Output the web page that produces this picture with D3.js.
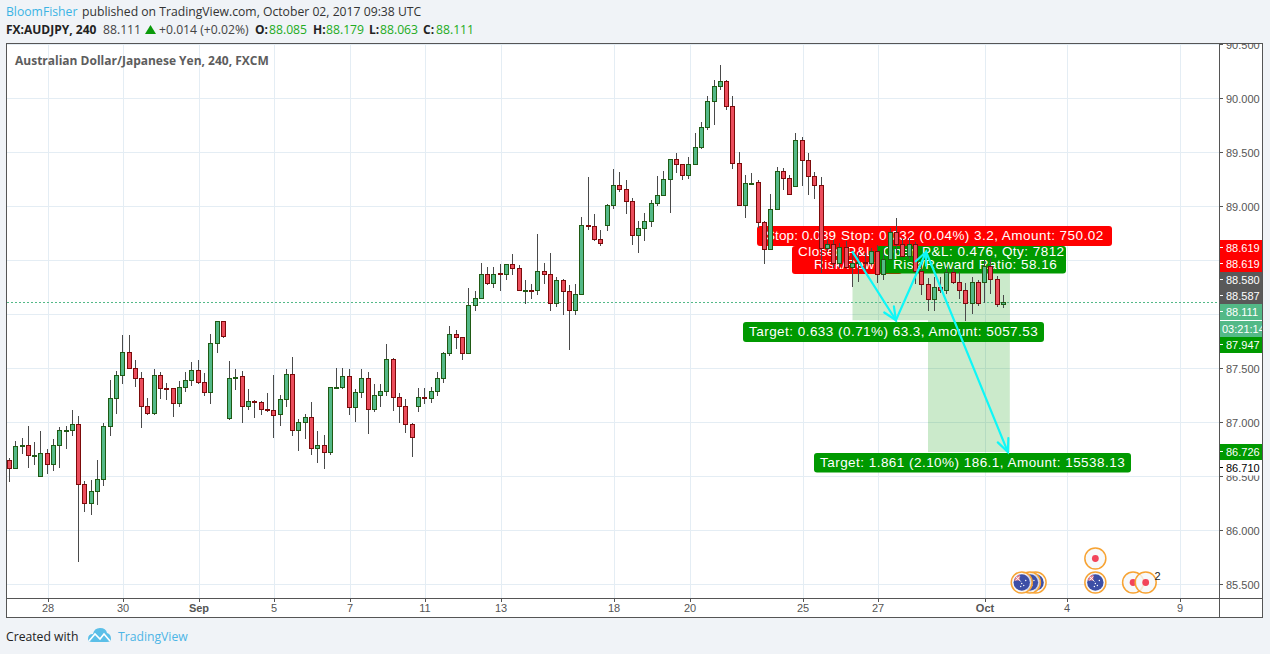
<!DOCTYPE html>
<html><head><meta charset="utf-8">
<script src="https://cdnjs.cloudflare.com/ajax/libs/d3/7.8.5/d3.min.js"></script>
<style>html,body{margin:0;padding:0;background:#f0f3f7;overflow:hidden}svg{display:block}</style>
</head><body><svg id="c" width="1270" height="654"></svg>
<script>
const opens=[86.648,86.565,86.769,86.787,86.691,86.491,86.704,86.602,86.778,86.915,86.917,86.981,86.417,86.250,86.352,86.472,86.954,87.213,87.426,87.648,87.500,87.407,87.148,87.083,87.435,87.308,87.306,87.167,87.324,87.380,87.481,87.370,87.269,87.731,87.926,87.028,87.409,87.417,87.139,87.193,87.185,87.117,87.111,87.065,87.204,87.444,86.917,86.991,87.046,86.759,86.787,86.713,87.315,87.320,87.417,87.130,87.269,87.407,87.120,87.250,87.278,87.583,87.231,87.148,86.981,87.139,87.231,87.222,87.278,87.407,87.630,87.806,87.787,87.630,88.083,88.148,88.370,88.287,88.372,88.370,88.454,88.417,88.220,88.222,88.213,88.389,88.370,88.093,88.306,88.204,88.028,88.185,88.815,88.806,88.694,88.824,89.009,89.194,89.157,89.046,88.731,88.796,88.861,89.019,89.093,89.250,89.435,89.380,89.287,89.380,89.546,89.731,89.963,90.111,90.157,89.917,89.389,89.009,89.204,89.213,88.843,88.593,88.963,89.324,89.259,89.176,89.602,89.417,89.269,89.194,88.611,88.648,88.463,88.620,88.435,88.473,88.481,88.463,88.583,88.370,88.509,88.759,88.639,88.528,88.639,88.398,88.269,88.130,88.241,88.213,88.380,88.296,88.222,88.093,88.296,88.296,88.444,88.315,88.085];
const highs=[86.669,86.827,86.861,86.972,86.824,86.917,86.759,86.843,86.954,86.963,87.120,87.056,86.454,86.463,86.657,86.991,87.389,87.481,87.806,87.806,87.583,87.472,87.231,87.491,87.463,87.370,87.324,87.380,87.472,87.556,87.583,87.454,87.824,87.935,87.944,87.574,87.500,87.481,87.306,87.204,87.197,87.269,87.444,87.259,87.500,87.611,87.028,87.083,87.194,86.917,86.880,87.324,87.509,87.509,87.500,87.306,87.500,87.463,87.352,87.361,87.731,87.593,87.269,87.222,86.991,87.315,87.315,87.333,87.472,87.657,87.898,87.852,87.795,88.250,88.222,88.481,88.444,88.444,88.463,88.463,88.556,88.454,88.315,88.278,88.741,88.481,88.565,88.345,88.333,88.269,88.278,88.907,89.269,88.935,88.778,89.019,89.343,89.324,89.241,89.083,88.870,88.944,89.056,89.287,89.333,89.444,89.491,89.398,89.454,89.676,89.787,90.019,90.167,90.306,90.167,90.019,89.509,89.296,89.306,89.241,88.870,89.120,89.370,89.361,89.296,89.676,89.639,89.491,89.324,89.271,88.688,88.688,88.660,88.679,88.568,88.568,88.568,88.620,88.648,88.602,88.799,88.889,88.706,88.706,88.669,88.475,88.336,88.345,88.345,88.438,88.438,88.398,88.296,88.345,88.318,88.503,88.521,88.361,88.179];
const lows=[86.450,86.565,86.709,86.580,86.607,86.491,86.524,86.552,86.580,86.756,86.876,85.709,86.172,86.144,86.237,86.413,86.876,87.080,87.361,87.500,87.330,86.950,87.065,87.065,87.219,87.209,87.052,87.144,87.283,87.339,87.352,87.246,87.172,87.639,87.787,87.019,87.302,86.996,87.117,87.043,87.070,87.098,86.857,86.969,87.144,86.876,86.737,86.848,86.700,86.626,86.570,86.700,87.306,87.311,87.070,87.006,87.228,86.894,87.093,87.144,87.246,87.107,86.996,86.904,86.681,87.098,87.167,87.176,87.250,87.367,87.617,87.681,87.577,87.630,88.037,88.148,88.269,88.241,88.222,88.324,88.370,88.222,88.093,88.139,88.176,88.278,88.037,88.065,88.000,87.669,88.000,88.185,88.787,88.685,88.630,88.769,88.981,89.130,88.926,88.648,88.565,88.685,88.806,89.009,89.093,88.944,89.306,89.241,89.259,89.380,89.537,89.704,89.759,90.083,89.889,89.343,89.009,88.898,89.204,88.799,88.472,88.593,88.963,89.157,89.111,89.176,89.194,89.102,89.074,88.382,88.577,88.429,88.429,88.435,88.256,88.299,88.382,88.456,88.296,88.315,88.509,88.565,88.528,88.512,88.287,88.176,88.028,88.028,88.197,88.194,88.287,88.148,87.944,88.009,88.083,88.102,88.194,88.074,88.063];
const closes=[86.565,86.769,86.787,86.694,86.694,86.704,86.602,86.778,86.917,86.917,86.981,86.417,86.250,86.352,86.472,86.954,87.213,87.426,87.648,87.500,87.407,87.148,87.083,87.435,87.306,87.306,87.167,87.324,87.380,87.481,87.370,87.269,87.731,87.926,87.796,87.407,87.413,87.139,87.194,87.191,87.120,87.107,87.061,87.204,87.444,86.917,86.991,87.046,86.759,86.787,86.713,87.315,87.320,87.417,87.130,87.269,87.407,87.120,87.250,87.278,87.583,87.231,87.148,86.981,86.852,87.231,87.226,87.278,87.407,87.630,87.806,87.787,87.630,88.083,88.148,88.370,88.287,88.370,88.370,88.454,88.417,88.222,88.222,88.213,88.389,88.370,88.093,88.306,88.204,88.028,88.185,88.815,88.806,88.694,88.657,89.009,89.194,89.157,89.046,88.731,88.796,88.861,89.019,89.093,89.250,89.435,89.380,89.287,89.380,89.546,89.731,89.963,90.111,90.157,89.917,89.389,89.009,89.204,89.209,88.843,88.593,88.963,89.324,89.259,89.111,89.602,89.417,89.269,89.194,88.611,88.648,88.463,88.620,88.435,88.463,88.478,88.463,88.583,88.370,88.509,88.759,88.639,88.528,88.639,88.398,88.269,88.130,88.241,88.213,88.380,88.296,88.222,88.093,88.296,88.093,88.444,88.315,88.085,88.111];

const priceTicks=[90.5,90.0,89.5,89.0,88.5,88.0,87.5,87.0,86.5,86.0,85.5];
const axisPriceTicks=[90.5,90.0,89.5,89.0,87.5,87.0,86.5,86.0,85.5];
const dateTickIndex=[6,18,30,42,54,66,78,96,108,126,138,155,168,186];
const dateTickLabels=["28","30","Sep","5","7","11","13","18","20","25","27","Oct","4","9"];
const boldDateLabels=["Sep","Oct"];
const pathIndex=[134,140.9,145.7,158.7];
const pathPrice=[88.58,87.947,88.58,86.726];
const zoneStart=[134,146];
const zoneEnd=[159,159];
const zoneTop=[88.58,88.58];
const zoneBottom=[87.947,86.726];
const eventIndex=[163.1,162.2,160.9,172.6,172.6,178.6,180.6];
const eventRow=[0,0,0,0,1,0,0];
const eventFlag=[true,true,true,true,false,false,false];

const BG="#f0f3f7",GRID="#e4edf4",FRAME="#555",UP="#53b987",DOWN="#eb4d5c",UPB="#1f5a14",DOWNB="#7c0a0a",WICK="#4a4a4a",GREEN="#009900",RED="#ff0000";
const SANS="'Liberation Sans',Arial,sans-serif",OPEN="'Open Sans',sans-serif";
const svg=d3.select("#c");
const x=d3.scaleLinear().domain([0,158]).range([9.5,1003.5]);
const y=d3.scaleLinear().domain([90,85.5]).range([98.5,584.5]);
const px=v=>Math.floor(x(v));
const py=v=>Math.round(y(v));

svg.append("rect").attr("width",1270).attr("height",654).attr("fill",BG);
svg.append("rect").attr("x",7).attr("y",44).attr("width",1213).attr("height",573).attr("fill","#fff");
svg.append("rect").attr("x",1220).attr("y",44).attr("width",43).attr("height",573).attr("fill","#fff");

svg.append("defs").append("clipPath").attr("id","plot").append("rect").attr("x",7).attr("y",44).attr("width",1212).attr("height",554);
svg.select("defs").append("clipPath").attr("id","axisClip").append("rect").attr("x",1220).attr("y",44).attr("width",43).attr("height",554);

const plot=svg.append("g").attr("clip-path","url(#plot)");
const grid=plot.append("g").attr("stroke",GRID).attr("stroke-width",1).attr("shape-rendering","crispEdges");
grid.selectAll(".h").data(priceTicks).join("line").attr("x1",7).attr("x2",1219).attr("y1",d=>Math.floor(y(d))+.5).attr("y2",d=>Math.floor(y(d))+.5);
grid.selectAll(".v").data(dateTickIndex).join("line").attr("y1",44).attr("y2",598).attr("x1",d=>Math.round(x(d)+.6)+.5).attr("x2",d=>Math.round(x(d)+.6)+.5);

plot.append("g").attr("opacity",.2).selectAll(".zone").data(zoneStart).join("rect").attr("class","zone")
 .attr("x",d=>x(d)).attr("width",(d,i)=>x(zoneEnd[i])-x(d))
 .attr("y",(d,i)=>y(zoneTop[i])).attr("height",(d,i)=>y(zoneBottom[i])-y(zoneTop[i]))
 .attr("fill","#009900");

plot.append("line").attr("x1",7).attr("x2",1219).attr("y1",302.5).attr("y2",302.5).attr("stroke",UP).attr("stroke-dasharray","2 2");

function box(xx,yy,w,h,fill,r){plot.append("rect").attr("x",xx).attr("y",yy).attr("width",w).attr("height",h).attr("rx",r||3).attr("fill",fill);}
function lbl(t,xx,yy,ls){plot.append("text").attr("x",xx).attr("y",yy).attr("fill","#fff").style("font",`13.5px ${SANS}`).style("letter-spacing",(ls||0.46)+"px").attr("xml:space","preserve").text(t);}
box(757,226,355,20,RED);
box(792,246,110,28,RED);
lbl("Stop: 0.039",766,240,0.1);
lbl("Closed P&L",798,256);
lbl("Risk/Reward",814,269);
box(877,246,189,27.5,GREEN);
lbl("Stop: 0.032 (0.04%) 3.2, Amount: 750.02",841,240);
lbl("Open P&L: 0.476, Qty: 7812",883,256);
lbl("Risk/Reward Ratio: 58.16",893,269);
box(743,322,301,20,GREEN);
lbl("Target: 0.633 (0.71%) 63.3, Amount: 5057.53",749,336);
box(814,453,317,19.5,GREEN);
lbl("Target: 1.861 (2.10%) 186.1, Amount: 15538.13",820,467);

const cg=plot.append("g").attr("shape-rendering","crispEdges");
const idx=d3.range(opens.length);
cg.selectAll(".w").data(idx).join("line").attr("x1",i=>px(i)+.5).attr("x2",i=>px(i)+.5)
 .attr("y1",i=>y(highs[i])).attr("y2",i=>y(lows[i])).attr("stroke",WICK);
cg.selectAll(".b").data(idx).join("rect")
 .attr("x",i=>px(i)-1.5).attr("width",4)
 .attr("y",i=>Math.min(py(opens[i]),py(closes[i]))-.5)
 .attr("height",i=>Math.max(1,Math.abs(py(opens[i])-py(closes[i]))))
 .attr("fill",i=>closes[i]>=opens[i]?UP:DOWN)
 .attr("stroke",i=>closes[i]>=opens[i]?UPB:DOWNB);

const arrows=plot.append("g").attr("stroke","#0ff7f7").attr("stroke-width",2.2).attr("fill","none").attr("stroke-linecap","round");
arrows.append("path").attr("d",d3.line().x(i=>x(pathIndex[i])).y(i=>y(pathPrice[i]))(d3.range(pathIndex.length)));
for(let k=1;k<pathIndex.length;k++){
  const x1=x(pathIndex[k]),y1=y(pathPrice[k]),x0=x(pathIndex[k-1]),y0=y(pathPrice[k-1]);
  const a=Math.atan2(y1-y0,x1-x0),L=14,s=.42;
  arrows.append("path").attr("d",`M${x1-L*Math.cos(a-s)},${y1-L*Math.sin(a-s)}L${x1},${y1}L${x1-L*Math.cos(a+s)},${y1-L*Math.sin(a+s)}`);
}

// economic events
const ev=plot.append("g");
eventIndex.forEach((v,i)=>{
  const cx=x(v),cy=eventRow[i]?558.5:582.5;
  const g=ev.append("g").attr("transform",`translate(${cx},${cy})`);
  g.append("circle").attr("r",10.5).attr("fill","#f5f7fa").attr("fill-opacity",.8).attr("stroke","#f7a333").attr("stroke-width",1.5);
  if(eventFlag[i]){
    g.append("circle").attr("r",8.2).attr("fill","#3d4fa6");
    g.append("path").attr("d","M-7.8,-2 L-2,-2 L-2,-7.8 A8.2,8.2 0 0 0 -7.8,-2Z").attr("fill","#e9808a");
    g.append("path").attr("d","M-6,-6 L-1,-1 M-2,-6 L-6,-2").attr("stroke","#fff").attr("stroke-width",1);
    g.selectAll(".st").data([[2,3],[-1,4],[4,-2],[0,1]]).join("circle").attr("cx",d=>d[0]).attr("cy",d=>d[1]).attr("r",.7).attr("fill","#fff");
  } else g.append("circle").attr("r",3.4).attr("fill","#f2445a");
});
ev.append("text").attr("x",1154.5).attr("y",580).attr("fill","#222").style("font",`11px ${SANS}`).text("2");

// right axis
const ax=svg.append("g").attr("clip-path","url(#axisClip)");
axisPriceTicks.forEach(p=>{
  const yy=Math.floor(y(p))+.5;
  ax.append("line").attr("x1",1220).attr("x2",1223).attr("y1",yy).attr("y2",yy).attr("stroke","#555");
  ax.append("text").attr("x",1226).attr("y",yy+4).attr("fill","#555").style("font",`11px ${SANS}`).text(p.toFixed(3));
});
function tag(yTop,h,fill,w){
  ax.append("rect").attr("x",1220).attr("y",yTop).attr("width",w||43).attr("height",h).attr("fill",fill);
}
function tagText(t,yy,tc,xT){
  ax.append("line").attr("x1",1220).attr("x2",1223).attr("y1",yy-.5).attr("y2",yy-.5).attr("stroke",tc==="#000"?"#000":"#fff");
  ax.append("text").attr("x",xT||1226).attr("y",yy+3.5).attr("fill",tc).style("font",`11px ${SANS}`).text(t);
}
tag(240,32,RED);tagText("88.619",248,"#fff");tagText("88.619",264,"#fff");
tag(272,32,"#595959");tagText("88.580",280,"#fff");tagText("88.587",296,"#fff");
tag(304,16,UP,42);tagText("88.111",312,"#fff");
tag(321,16,UP);
ax.append("text").attr("x",1222).attr("y",333).attr("fill","#fff").style("font",`11px ${SANS}`).text("03:21:14");
tag(337,16,GREEN);tagText("87.947",345,"#fff");
tag(444,16,GREEN);tagText("86.726",452,"#fff");
tag(460,15.5,"#fff");tagText("86.710",468,"#000");

// frame
const fr=svg.append("g").attr("fill","none").attr("stroke",FRAME).attr("shape-rendering","crispEdges");
fr.append("rect").attr("x",6.5).attr("y",43.5).attr("width",1256).attr("height",573.5);
fr.append("line").attr("x1",1219.5).attr("x2",1219.5).attr("y1",44).attr("y2",617);
fr.append("line").attr("x1",7).attr("x2",1263).attr("y1",598.5).attr("y2",598.5);

// bottom axis
dateTickIndex.forEach((d,i)=>{
  const xx=Math.round(x(d)+.6)+.5,t=dateTickLabels[i];
  svg.append("line").attr("x1",xx).attr("x2",xx).attr("y1",599).attr("y2",602).attr("stroke","#555");
  svg.append("text").attr("x",xx-.5).attr("y",612).attr("text-anchor","middle").attr("fill","#555")
   .style("font",`${boldDateLabels.includes(t)?"bold ":""}11px ${SANS}`).text(t);
});

// header
function T(t,xx,yy,fill,f){return svg.append("text").attr("x",xx).attr("y",yy).attr("fill",fill).style("font",f).text(t);}
const f13=`12.2px ${OPEN}`,f13b=`bold 12px ${OPEN}`;
T("BloomFisher",6,16,"#3bb3e4",f13);
T("published on TradingView.com, October 02, 2017 09:38 UTC",82,16,"#333",f13);
T("FX:AUDJPY, 240",6,34,"#222",f13b);
T("88.111",103,34,"#444",f13);
svg.append("path").attr("d","M145,34 L150.5,25 L156,34Z").attr("fill","#0a9a0a");
T("+0.014 (+0.02%)",159,34,"#444",f13);
const ohlcLab=["O:","H:","L:","C:"],ohlcVal=["88.085","88.179","88.063","88.111"],labX=[255,313,369,423],valX=[269,326,380,436];
ohlcLab.forEach((l,i)=>{T(l,labX[i],34,"#222",f13b);T(ohlcVal[i],valX[i],34,"#22ab22",f13);});
T("Australian Dollar/Japanese Yen, 240, FXCM",15,65,"#5d5d5d",f13b);

// footer
T("Created with",6,641,"#222",f13);
T("TradingView",118,641,"#4db5e6",f13);
svg.append("path").attr("d","M88,639 Q88,634 93,634 Q94,628 100,628 Q106,628 107,633 Q111,634 111,639 Q111,642 107,642 L92,642 Q88,642 88,639Z").attr("fill","#5bbfe8");
svg.append("path").attr("d","M89,641 L95,634 L100,639 L104,634 L110,641").attr("fill","none").attr("stroke","#fff").attr("stroke-width",1.6);
</script></body></html>
